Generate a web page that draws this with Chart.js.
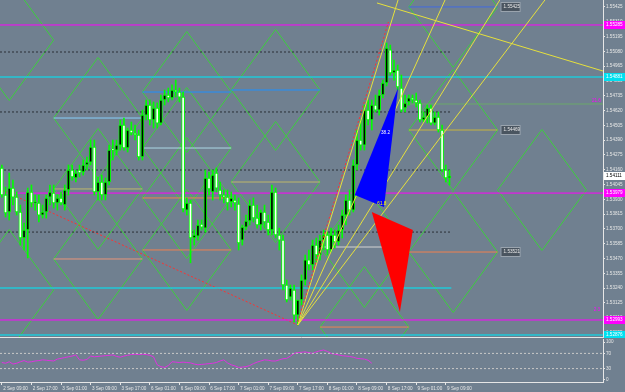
<!DOCTYPE html>
<html>
<head>
<meta charset="utf-8">
<script src="https://cdn.jsdelivr.net/npm/chart.js@4.4.0/dist/chart.umd.min.js"></script>
<style>
  html, body { margin: 0; padding: 0; background: #708090; }
  #wrap { position: relative; width: 625px; height: 392px; overflow: hidden; background: #708090; }
  #main { position: absolute; left: 0; top: 0; }
  #ind { position: absolute; left: 0; top: 338px; }
</style>
</head>
<body>
<div id="wrap">
  <canvas id="main" width="625" height="338"></canvas>
  <canvas id="ind" width="625" height="54"></canvas>
</div>
<script>
/* ===============================
   DATA (H1 bars, 2 Sep 09:00 -> 9 Sep 10:00)
================================= */
const timeLabels = ["2 Sep 09:00", "2 Sep 17:00", "3 Sep 01:00", "3 Sep 09:00", "3 Sep 17:00",
  "6 Sep 01:00", "6 Sep 09:00", "6 Sep 17:00", "7 Sep 01:00", "7 Sep 09:00", "7 Sep 17:00",
  "8 Sep 01:00", "8 Sep 09:00", "8 Sep 17:00", "9 Sep 01:00", "9 Sep 09:00"];
const timeTickBars = [0, 8, 16, 24, 32, 40, 48, 56, 64, 72, 80, 88, 96, 104, 112, 120];

const priceTicks = [1.55425, 1.55310, 1.55195, 1.55080, 1.54965, 1.54850, 1.54735, 1.54620,
  1.54505, 1.54390, 1.54275, 1.54160, 1.54045, 1.53930, 1.53815, 1.53700, 1.53585, 1.53470,
  1.53355, 1.53240, 1.53125, 1.53010, 1.52895];

const opens = [
  1.54174, 1.53964, 1.53832, 1.54018, 1.53948, 1.53832, 1.53630, 1.53692, 1.53987, 1.53902,
  1.53902, 1.53808, 1.53832, 1.53948, 1.53979, 1.53902, 1.53941, 1.53886, 1.54003, 1.54158,
  1.54096, 1.54158, 1.54143, 1.54197, 1.54220, 1.54337, 1.53987, 1.54065, 1.53964, 1.54065,
  1.54321, 1.54313, 1.54352, 1.54508, 1.54329, 1.54469, 1.54446, 1.54430, 1.54259, 1.54585,
  1.54663, 1.54547, 1.54640, 1.54523, 1.54702, 1.54741, 1.54718, 1.54780, 1.54764, 1.54725,
  1.53847, 1.53902, 1.53630, 1.53645, 1.53739, 1.53707, 1.54096, 1.53987, 1.54135, 1.54003,
  1.53964, 1.53948, 1.53910, 1.53925, 1.53894, 1.53614, 1.53715, 1.53762, 1.53886, 1.53785,
  1.53731, 1.53832, 1.53754, 1.53692, 1.53987, 1.53653, 1.53614, 1.53265, 1.53171, 1.53226,
  1.53031, 1.53148, 1.53303, 1.53460, 1.53421, 1.53575, 1.53498, 1.53614, 1.53653, 1.53537,
  1.53653, 1.53599, 1.53692, 1.53808, 1.53925, 1.53847, 1.54197, 1.54391, 1.54352, 1.54624,
  1.54547, 1.54663, 1.54624, 1.54741, 1.54834, 1.55091, 1.54912, 1.54935, 1.54795, 1.54640,
  1.54687, 1.54718, 1.54702, 1.54679, 1.54547, 1.54570, 1.54640, 1.54523, 1.54570, 1.54469,
  1.54158, 1.54096];
const highs = [
  1.54197, 1.54026, 1.54135, 1.54080, 1.53987, 1.53886, 1.53746, 1.54018, 1.54042, 1.53964,
  1.53964, 1.53886, 1.53964, 1.54042, 1.54042, 1.53964, 1.53987, 1.54042, 1.54197, 1.54197,
  1.54158, 1.54197, 1.54236, 1.54259, 1.54391, 1.54391, 1.54104, 1.54119, 1.54096, 1.54352,
  1.54391, 1.54391, 1.54547, 1.54562, 1.54484, 1.54531, 1.54508, 1.54469, 1.54624, 1.54702,
  1.54702, 1.54687, 1.54679, 1.54741, 1.54780, 1.54795, 1.54819, 1.54857, 1.54795, 1.54764,
  1.53941, 1.53925, 1.53692, 1.53770, 1.53770, 1.54158, 1.54143, 1.54158, 1.54174, 1.54065,
  1.54003, 1.54003, 1.53987, 1.53964, 1.53941, 1.53731, 1.53808, 1.53925, 1.53941, 1.53886,
  1.53847, 1.53886, 1.53808, 1.54042, 1.54018, 1.53707, 1.53653, 1.53303, 1.53265, 1.53265,
  1.53148, 1.53343, 1.53498, 1.53537, 1.53614, 1.53630, 1.53653, 1.53692, 1.53676, 1.53707,
  1.53692, 1.53731, 1.53847, 1.53964, 1.54003, 1.54236, 1.54469, 1.54547, 1.54663, 1.54702,
  1.54702, 1.54741, 1.54780, 1.54857, 1.55145, 1.55129, 1.55013, 1.54974, 1.54896, 1.54741,
  1.54741, 1.54741, 1.54756, 1.54702, 1.54609, 1.54663, 1.54663, 1.54609, 1.54609, 1.54508,
  1.54197, 1.54158];
const lows = [
  1.53948, 1.53793, 1.53770, 1.53886, 1.53808, 1.53575, 1.53537, 1.53475, 1.53871, 1.53847,
  1.53754, 1.53785, 1.53785, 1.53886, 1.53863, 1.53847, 1.53886, 1.53847, 1.53964, 1.54080,
  1.54065, 1.54104, 1.54119, 1.54158, 1.54197, 1.53964, 1.53925, 1.53925, 1.53925, 1.54042,
  1.54236, 1.54275, 1.54313, 1.54313, 1.54298, 1.54430, 1.54391, 1.54236, 1.54236, 1.54547,
  1.54508, 1.54484, 1.54484, 1.54508, 1.54663, 1.54687, 1.54702, 1.54725, 1.54687, 1.53832,
  1.53808, 1.53437, 1.53575, 1.53614, 1.53692, 1.53676, 1.53964, 1.53925, 1.53987, 1.53925,
  1.53902, 1.53847, 1.53871, 1.53847, 1.53537, 1.53575, 1.53692, 1.53731, 1.53754, 1.53707,
  1.53692, 1.53707, 1.53653, 1.53653, 1.53630, 1.53537, 1.53226, 1.53133, 1.53148, 1.52977,
  1.52954, 1.53109, 1.53265, 1.53382, 1.53382, 1.53444, 1.53460, 1.53537, 1.53498, 1.53521,
  1.53552, 1.53575, 1.53630, 1.53731, 1.53808, 1.53832, 1.54158, 1.54313, 1.54313, 1.54508,
  1.54469, 1.54609, 1.54585, 1.54718, 1.54811, 1.54896, 1.54857, 1.54780, 1.54609, 1.54609,
  1.54663, 1.54679, 1.54648, 1.54531, 1.54531, 1.54523, 1.54508, 1.54508, 1.54453, 1.54143,
  1.54065, 1.54042];
const closes = [
  1.53964, 1.53824, 1.54018, 1.53948, 1.53832, 1.53630, 1.53692, 1.53987, 1.53902, 1.53910,
  1.53808, 1.53832, 1.53941, 1.53987, 1.53902, 1.53941, 1.53902, 1.54003, 1.54158, 1.54104,
  1.54135, 1.54135, 1.54197, 1.54220, 1.54337, 1.53987, 1.54065, 1.53964, 1.54065, 1.54313,
  1.54313, 1.54352, 1.54508, 1.54329, 1.54469, 1.54446, 1.54430, 1.54259, 1.54585, 1.54663,
  1.54547, 1.54640, 1.54523, 1.54702, 1.54741, 1.54718, 1.54780, 1.54764, 1.54725, 1.53855,
  1.53902, 1.53630, 1.53653, 1.53731, 1.53715, 1.54096, 1.54011, 1.54119, 1.54018, 1.53964,
  1.53948, 1.53902, 1.53941, 1.53902, 1.53591, 1.53715, 1.53762, 1.53886, 1.53785, 1.53731,
  1.53832, 1.53754, 1.53692, 1.53987, 1.53653, 1.53614, 1.53265, 1.53148, 1.53241, 1.53031,
  1.53148, 1.53303, 1.53460, 1.53421, 1.53575, 1.53498, 1.53614, 1.53653, 1.53537, 1.53653,
  1.53599, 1.53692, 1.53808, 1.53925, 1.53847, 1.54197, 1.54391, 1.54352, 1.54624, 1.54547,
  1.54663, 1.54624, 1.54741, 1.54834, 1.55106, 1.54912, 1.54935, 1.54803, 1.54624, 1.54679,
  1.54718, 1.54702, 1.54679, 1.54547, 1.54570, 1.54640, 1.54523, 1.54570, 1.54469, 1.54158,
  1.54096, 1.54111];

// oscillator (0..100), one value per bar from bar 0
const oscValues = [
  46, 44, 48, 42, 44, 48, 51, 47, 48, 50,
  51, 53, 52, 51, 50, 55, 57, 59, 61, 63,
  66, 53, 52, 54, 63, 61, 62, 63, 64, 65,
  66, 62, 60, 63, 65, 67, 68, 67, 68, 67,
  65, 61, 40, 35, 33, 38, 48, 47, 46, 47,
  46, 45, 42, 40, 41, 42, 43, 44, 46, 50,
  53, 45, 40, 37, 33, 34, 35, 38, 43, 47,
  50, 53, 52, 50, 50, 53, 56, 57, 63, 70,
  72, 73, 74, 72, 70, 74, 77, 79, 75, 70,
  68, 66, 64, 63, 62, 60, 57, 56, 55, 52, 44];
const oscTicks = [100, 70, 30, 0];
const oscLevels = [70, 30];

// horizontal levels
const magentaLevels = [1.55285, 1.53979, 1.52993];
const cyanLevels = [1.54881, 1.52876];
const cyanShortLevels = [1.53241];
const dottedLevels = [1.55075, 1.54609, 1.54158, 1.53676];
const lastPrice = 1.54111;

// diamond grid: start bar, middle price, colour of middle line ('' = none)
const diamondStart = [-10, -10, 14, 14, 14, 38, 38, 38, 38, 62, 62, 86, 86, 110, 110, 110, 134];
const diamondMid = [1.55168, 1.53226, 1.54562, 1.54011, 1.53467, 1.54764, 1.54329, 1.53941,
  1.53537, 1.54780, 1.54065, 1.52938, 1.53560, 1.55425, 1.54469, 1.53521, 1.54003];
const diamondLine = ["", "", "#87cefa", "#bdb76b", "#e9967a", "#1e90ff", "#add8e6", "#f08050",
  "#f08050", "#1e90ff", "#bdb76b", "#f08050", "#d3d3d3", "#4169e1", "#c8b43c", "#f08050", ""];
const taggedDiamonds = [13, 14, 15];

// gann fan from the 7 Sep low
const fanOrigin = { bar: 80, price: 1.52954 };
const fanEndBars = [107.1, 119.8, 134.6, 146.8];
const fanEndPrices = [1.55479, 1.55479, 1.55479, 1.55479];
const slopeLine = [{ bar: 101.4, price: 1.55456 }, { bar: 162.5, price: 1.54927 }];
const redTrend1 = [{ bar: 0, price: 1.54003 }, { bar: 80, price: 1.52954 }];
const redTrend2 = [{ bar: 80, price: 1.52977 }, { bar: 104.5, price: 1.55308 }];
const greenLevel = [{ bar: 108, price: 1.54671 }, { bar: 162.5, price: 1.54671 }];

// fibo triangles
const blueTriangle = [{ bar: 107.1, price: 1.54795 }, { bar: 95.4, price: 1.53964 }, { bar: 103.3, price: 1.53871 }];
const redTriangle = [{ bar: 100.0, price: 1.53832 }, { bar: 111.1, price: 1.53692 }, { bar: 107.6, price: 1.53055 }];
const fiboTexts = [
  { text: "38.2", bar: 102.5, price: 1.54446, color: "#ffffff" },
  { text: "61.8", bar: 101.5, price: 1.53900, color: "#ffff00" },
];
const markerTexts = [
  { text: "21.6", bar: 159.5, price: 1.54671 },
  { text: "2.3", bar: 160, price: 1.53048 },
];

/* ===============================
   STYLE
================================= */
const X_MIN = -0.5, X_MAX = 162.5;
const LAST_BAR = opens.length - 0.5;
const GREEN = "#3ccf3c";
const AXIS = "#e6e6e6";
const FONT = '"Liberation Sans", "DejaVu Sans", sans-serif';
const DIAMOND_HALF_BARS = 12;
const DIAMOND_HALF_PRICE = 0.0047;

/* ===============================
   HELPERS
================================= */
function segment(points, color, extra) {
  return Object.assign({
    type: "line",
    data: points.map(p => ({ x: p.bar, y: p.price })),
    borderColor: color,
    borderWidth: 1,
    pointRadius: 0,
    fill: false,
    tension: 0,
    order: 5,
  }, extra || {});
}

function hLine(price, fromBar, toBar, color, extra) {
  return segment([{ bar: fromBar, price }, { bar: toBar, price }], color, extra);
}

function noPad(scale) {
  scale.paddingTop = 0;
  scale.paddingBottom = 0;
  scale.paddingLeft = 0;
  scale.paddingRight = 0;
}

/* ===============================
   MAIN CHART DATASETS
================================= */
const datasets = [];

diamondStart.forEach((start, i) => {
  const mid = diamondMid[i];
  const c = start + DIAMOND_HALF_BARS;
  datasets.push(segment([
    { bar: start, price: mid }, { bar: c, price: mid + DIAMOND_HALF_PRICE },
    { bar: start + 2 * DIAMOND_HALF_BARS, price: mid }, { bar: c, price: mid - DIAMOND_HALF_PRICE },
    { bar: start, price: mid },
  ], GREEN, { order: 8 }));
  if (diamondLine[i]) {
    datasets.push(hLine(mid, start, start + 2 * DIAMOND_HALF_BARS, diamondLine[i], { order: 7 }));
  }
});

dottedLevels.forEach(p => datasets.push(hLine(p, X_MIN, LAST_BAR, "#2a2f36", { borderDash: [2, 2], order: 6 })));
magentaLevels.forEach(p => datasets.push(hLine(p, X_MIN, X_MAX, "#ff00ff", { order: 6 })));
cyanLevels.forEach(p => datasets.push(hLine(p, X_MIN, X_MAX, "#20c8d8", { borderWidth: 1.5, order: 6 })));
cyanShortLevels.forEach(p => datasets.push(hLine(p, X_MIN, LAST_BAR, "#20c8d8", { borderWidth: 1.5, order: 6 })));
datasets.push(segment(greenLevel, "#6aa86a", { order: 6 }));

datasets.push(segment(redTrend1, "#ff3030", { borderDash: [2, 2], order: 6 }));
datasets.push(segment(redTrend2, "#ff3030", { borderDash: [2, 2], order: 1 }));
fanEndBars.forEach((b, i) => {
  datasets.push(segment([fanOrigin, { bar: b, price: fanEndPrices[i] }], "#e6e03c", { order: 1 }));
});
datasets.push(segment(slopeLine, "#e6e03c", { order: 1 }));

// candles: wick + body
datasets.push({
  type: "bar",
  data: opens.map((o, i) => ({ x: i, y: [lows[i], highs[i]] })),
  backgroundColor: "#00ff00",
  barThickness: 1,
  grouped: false,
  order: 3,
});
datasets.push({
  type: "bar",
  data: opens.map((o, i) => ({ x: i, y: [o, closes[i]] })),
  backgroundColor: opens.map((o, i) => closes[i] >= o ? "#000000" : "#ffffff"),
  borderColor: "#00ff00",
  borderWidth: 1,
  borderSkipped: false,
  barThickness: 3,
  minBarLength: 1,
  grouped: false,
  order: 2,
});

/* ===============================
   OVERLAY PLUGIN (triangles, tags, frame)
================================= */
function drawTag(ctx, x, y, text, bg, fg, w) {
  ctx.fillStyle = bg;
  ctx.fillRect(x, Math.round(y) - 4, w, 8);
  ctx.fillStyle = fg;
  ctx.font = "4.6px " + FONT;
  ctx.textAlign = "left";
  ctx.textBaseline = "middle";
  ctx.fillText(text, x + 2, Math.round(y));
}

const overlayPlugin = {
  id: "overlay",
  afterDatasetsDraw(chart) {
    const { ctx, chartArea: a, scales: { x, y } } = chart;
    ctx.save();
    ctx.beginPath();
    ctx.rect(a.left, a.top, a.right - a.left, a.bottom - a.top);
    ctx.clip();
    [[blueTriangle, "#0000ff"], [redTriangle, "#ff0000"]].forEach(([tri, color]) => {
      ctx.beginPath();
      tri.forEach((p, i) => {
        const px = x.getPixelForValue(p.bar), py = y.getPixelForValue(p.price);
        if (i === 0) ctx.moveTo(px, py); else ctx.lineTo(px, py);
      });
      ctx.closePath();
      ctx.fillStyle = color;
      ctx.fill();
    });
    ctx.font = "4.6px " + FONT;
    ctx.textBaseline = "middle";
    fiboTexts.forEach(t => {
      ctx.fillStyle = t.color;
      ctx.fillText(t.text, x.getPixelForValue(t.bar), y.getPixelForValue(t.price));
    });
    markerTexts.forEach(t => {
      ctx.fillStyle = "#ff00ff";
      ctx.fillText(t.text, x.getPixelForValue(t.bar), y.getPixelForValue(t.price) - 3);
    });
    taggedDiamonds.forEach(i => {
      const px = x.getPixelForValue(diamondStart[i] + 2 * DIAMOND_HALF_BARS) + 4;
      const py = y.getPixelForValue(diamondMid[i]);
      ctx.strokeStyle = "#9aa4ae";
      ctx.lineWidth = 1;
      ctx.strokeRect(px - 0.5, Math.round(py) - 4.5, 19, 9);
      drawTag(ctx, px, py, diamondMid[i].toFixed(5), "#4a5560", "#e8e8e8", 18);
    });
    ctx.restore();
  },
  afterDraw(chart) {
    const { ctx, chartArea: a, scales: { y } } = chart;
    ctx.save();
    ctx.strokeStyle = AXIS;
    ctx.lineWidth = 1;
    ctx.beginPath();
    ctx.moveTo(0, a.bottom - 0.5);
    ctx.lineTo(a.right, a.bottom - 0.5);
    ctx.stroke();
    const tags = [];
    magentaLevels.forEach(p => tags.push([p, "#ff00ff", "#ffffff"]));
    cyanLevels.forEach(p => tags.push([p, "#00e0f0", "#ffffff"]));
    tags.push([lastPrice, "#ffffff", "#000000"]);
    tags.forEach(([p, bg, fg]) => drawTag(ctx, a.right + 1, y.getPixelForValue(p), p.toFixed(5), bg, fg, 22));
    ctx.restore();
  },
};

/* ===============================
   MAIN CHART
================================= */
new Chart(document.getElementById("main"), {
  data: { datasets },
  options: {
    responsive: false,
    animation: false,
    events: [],
    layout: { padding: 0 },
    plugins: { legend: { display: false }, tooltip: { enabled: false } },
    scales: {
      x: { type: "linear", min: X_MIN, max: X_MAX, offset: false, display: false },
      y: {
        type: "linear",
        position: "right",
        min: 1.52853,
        max: 1.55479,
        afterBuildTicks: s => { s.ticks = priceTicks.map(v => ({ value: v })); },
        afterFit: s => { s.width = 22; noPad(s); },
        ticks: {
          color: AXIS,
          font: { size: 4.6, family: FONT },
          padding: 1,
          autoSkip: false,
          callback: v => Number(v).toFixed(5),
        },
        grid: { drawOnChartArea: false, drawTicks: true, tickLength: 2, color: AXIS },
        border: { display: true, color: AXIS },
      },
    },
  },
  plugins: [overlayPlugin],
});

/* ===============================
   OSCILLATOR PANEL
================================= */
const indDatasets = oscLevels.map(v => ({
  type: "line",
  data: [{ x: X_MIN, y: v }, { x: X_MAX, y: v }],
  borderColor: "#c8c8c8",
  borderWidth: 1,
  borderDash: [2, 2],
  pointRadius: 0,
}));
indDatasets.push({
  type: "line",
  data: oscValues.map((v, i) => ({ x: i, y: v })),
  borderColor: "#e030e0",
  borderWidth: 1,
  pointRadius: 0,
  tension: 0,
});

new Chart(document.getElementById("ind"), {
  data: { datasets: indDatasets },
  options: {
    responsive: false,
    animation: false,
    events: [],
    layout: { padding: { top: 1 } },
    plugins: { legend: { display: false }, tooltip: { enabled: false } },
    scales: {
      x: {
        type: "linear",
        min: X_MIN,
        max: X_MAX,
        offset: false,
        afterBuildTicks: s => { s.ticks = timeTickBars.map(v => ({ value: v })); },
        afterFit: s => { s.height = 10; noPad(s); },
        ticks: {
          color: AXIS,
          font: { size: 4.6, family: FONT },
          align: "start",
          maxRotation: 0,
          autoSkip: false,
          padding: 1,
          callback: (v, i) => " " + timeLabels[i],
        },
        grid: { drawOnChartArea: false, drawTicks: true, tickLength: 3, color: AXIS },
        border: { display: true, color: AXIS },
      },
      y: {
        type: "linear",
        position: "right",
        min: -5.3,
        max: 107.9,
        afterBuildTicks: s => { s.ticks = oscTicks.map(v => ({ value: v })); },
        afterFit: s => { s.width = 22; noPad(s); },
        ticks: { color: AXIS, font: { size: 4.6, family: FONT }, padding: 1, autoSkip: false },
        grid: { drawOnChartArea: false, drawTicks: true, tickLength: 2, color: AXIS },
        border: { display: true, color: AXIS },
      },
    },
  },
});
</script>
</body>
</html>
